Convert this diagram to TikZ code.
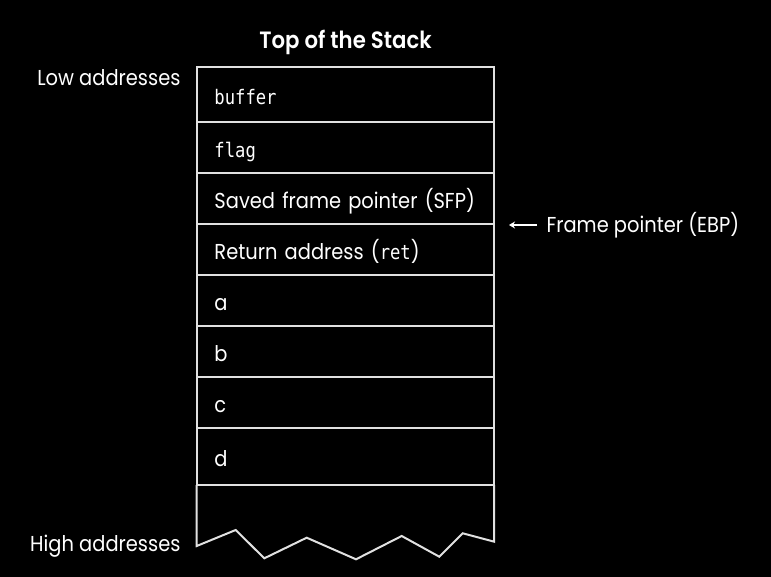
\documentclass[tikz,border=0pt]{standalone}
\usepackage{fontspec}
\setmainfont{Poppins}[FakeStretch=0.9]
\newfontfamily\titlefont{Poppins SemiBold}[FakeStretch=0.9]
\newfontfamily\codefont{DejaVu Sans Mono}[FakeStretch=0.86]
\usetikzlibrary{arrows.meta}
\definecolor{linegray}{RGB}{225,225,225}
\newcommand{\bodysize}{\fontsize{21.6}{23}\selectfont}
\newcommand{\monosize}{\codefont\fontsize{20}{21}\selectfont}
\begin{document}
\begin{tikzpicture}[x=1pt,y=-1pt,
  every node/.style={text=white},
  cell/.style={draw=linegray, line width=2pt, outer sep=0pt, anchor=north west,
    minimum width=297.5pt, text width=262pt, inner xsep=17pt, align=left,
    text height=20pt, text depth=0pt, font=\bodysize},
  lbl/.style={font=\bodysize}]
\useasboundingbox[fill=black] (0,0) rectangle (771,577);
\node[font=\titlefont\fontsize{23.6}{25}\selectfont] (title) at (345.5,42) {Top of the Stack};
\node[cell, minimum height=55.3pt] (c1) at (196.7,66.7) {\monosize buffer};
\node[cell, minimum height=51.3pt] (c2) at (196.7,122) {\monosize flag};
\node[cell, minimum height=51pt] (c3) at (196.7,173.3) {Saved frame pointer (SFP)};
\node[cell, minimum height=51pt] (c4) at (196.7,224.3) {Return address ({\monosize ret})};
\node[cell, minimum height=51pt] (c5) at (196.7,275.3) {a};
\node[cell, minimum height=51pt] (c6) at (196.7,326.3) {b};
\node[cell, minimum height=50.7pt] (c7) at (196.7,377.3) {c};
\node[cell, minimum height=57pt] (c8) at (196.7,428) {d};
\draw[linegray, line width=2pt, line join=miter]
  (c8.south west) -- (196.7,546) -- (235.7,530) -- (264.3,558.3) -- (306.7,537.7)
  -- (356,559.3) -- (401.7,536) -- (439.3,556.7) -- (462.7,533.3) -- (494.2,541.7)
  -- (c8.south east);
\node[lbl, anchor=east] (low) at (184,78) {Low addresses};
\node[lbl, anchor=east] (high) at (184,546) {High addresses};
\node[lbl, anchor=west] (ebp) at (543,225) {Frame pointer (EBP)};
\coordinate (tip) at (509,225);
\draw[white, line width=1.5pt, shorten <=6pt, -{Stealth[length=6pt,width=7pt]}] (ebp.west) -- (tip);
\end{tikzpicture}
\end{document}
